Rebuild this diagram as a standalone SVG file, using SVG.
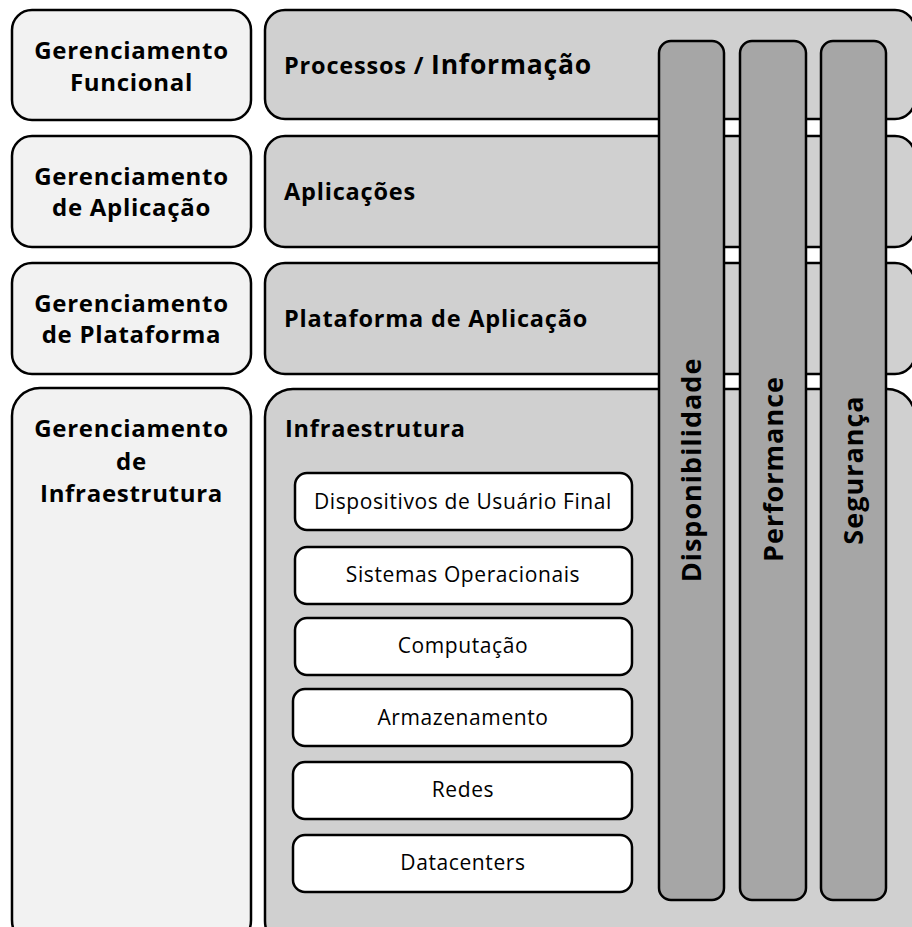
<svg xmlns="http://www.w3.org/2000/svg" width="912" height="927" viewBox="0 0 912 927">
  <style>
    .box { stroke: #000; stroke-width: 2.5; }
    .mgmt { fill: #f2f2f2; }
    .layer { fill: #d0d0d0; }
    .item { fill: #ffffff; }
    .pillar { fill: #a6a6a6; }
    text { font-family: "Open Sans", "Liberation Sans", sans-serif; fill: #000; }
    .mgmt-t { font-size: 24px; font-weight: 700; text-anchor: middle; letter-spacing: 0.7px; }
    .layer-t { font-size: 23.5px; font-weight: 700; letter-spacing: 0.8px; }
    .item-t { font-size: 21px; font-weight: 400; text-anchor: middle; letter-spacing: 0.6px; }
    .pillar-t { font-size: 27px; font-weight: 700; text-anchor: middle; letter-spacing: 1px; }
  </style>
  <rect width="912" height="927" fill="#ffffff"/>

  <!-- management column -->
  <g id="mgmt-funcional">
    <rect class="box mgmt" x="12" y="10" width="239" height="110" rx="20"/>
    <text class="mgmt-t" x="131.5" y="59">Gerenciamento</text>
    <text class="mgmt-t" x="131.5" y="91">Funcional</text>
  </g>
  <g id="mgmt-aplicacao">
    <rect class="box mgmt" x="12" y="136" width="239" height="111" rx="20"/>
    <text class="mgmt-t" x="131.5" y="185">Gerenciamento</text>
    <text class="mgmt-t" x="131.5" y="216">de Aplicação</text>
  </g>
  <g id="mgmt-plataforma">
    <rect class="box mgmt" x="12" y="263" width="239" height="111" rx="20"/>
    <text class="mgmt-t" x="131.5" y="312">Gerenciamento</text>
    <text class="mgmt-t" x="131.5" y="343">de Plataforma</text>
  </g>
  <g id="mgmt-infra">
    <rect class="box mgmt" x="12" y="388" width="239" height="560" rx="28"/>
    <text class="mgmt-t" x="131.5" y="437">Gerenciamento</text>
    <text class="mgmt-t" x="131.5" y="470">de</text>
    <text class="mgmt-t" x="131.5" y="502">Infraestrutura</text>
  </g>

  <!-- layers -->
  <g id="layer-processos">
    <rect class="box layer" x="265" y="10" width="650" height="109" rx="20"/>
    <text class="layer-t" x="284" y="74">Processos / <tspan font-size="26.5">Informação</tspan></text>
  </g>
  <g id="layer-aplicacoes">
    <rect class="box layer" x="265" y="136" width="650" height="111" rx="20"/>
    <text class="layer-t" x="284" y="200">Aplicações</text>
  </g>
  <g id="layer-plataforma">
    <rect class="box layer" x="265" y="263" width="650" height="111" rx="20"/>
    <text class="layer-t" x="284" y="327">Plataforma de Aplicação</text>
  </g>
  <g id="layer-infra">
    <rect class="box layer" x="265" y="389" width="650" height="560" rx="28"/>
    <text class="layer-t" x="285" y="437">Infraestrutura</text>
  </g>

  <!-- infrastructure items -->
  <g id="item-dispositivos">
    <rect class="box item" x="295" y="473" width="337" height="57" rx="12"/>
    <text class="item-t" x="463" y="509">Dispositivos de Usuário Final</text>
  </g>
  <g id="item-sistemas">
    <rect class="box item" x="295" y="547" width="337" height="57" rx="12"/>
    <text class="item-t" x="463" y="582">Sistemas Operacionais</text>
  </g>
  <g id="item-computacao">
    <rect class="box item" x="295" y="618" width="337" height="57" rx="12"/>
    <text class="item-t" x="463" y="653">Computação</text>
  </g>
  <g id="item-armazenamento">
    <rect class="box item" x="293" y="689" width="339" height="57" rx="12"/>
    <text class="item-t" x="463" y="725">Armazenamento</text>
  </g>
  <g id="item-redes">
    <rect class="box item" x="293" y="762" width="339" height="57" rx="12"/>
    <text class="item-t" x="463" y="797">Redes</text>
  </g>
  <g id="item-datacenters">
    <rect class="box item" x="293" y="835" width="339" height="57" rx="12"/>
    <text class="item-t" x="463" y="870">Datacenters</text>
  </g>

  <!-- cross-cutting pillars -->
  <g id="pillar-disponibilidade">
    <rect class="box pillar" x="659" y="41" width="65" height="859" rx="12"/>
    <text class="pillar-t" transform="translate(701 470) rotate(-90)">Disponibilidade</text>
  </g>
  <g id="pillar-performance">
    <rect class="box pillar" x="740" y="41" width="66" height="859" rx="12"/>
    <text class="pillar-t" transform="translate(783 469) rotate(-90)">Performance</text>
  </g>
  <g id="pillar-seguranca">
    <rect class="box pillar" x="821" y="41" width="65" height="859" rx="12"/>
    <text class="pillar-t" transform="translate(863 470) rotate(-90)">Segurança</text>
  </g>

  <g id="connectors"/>
</svg>
